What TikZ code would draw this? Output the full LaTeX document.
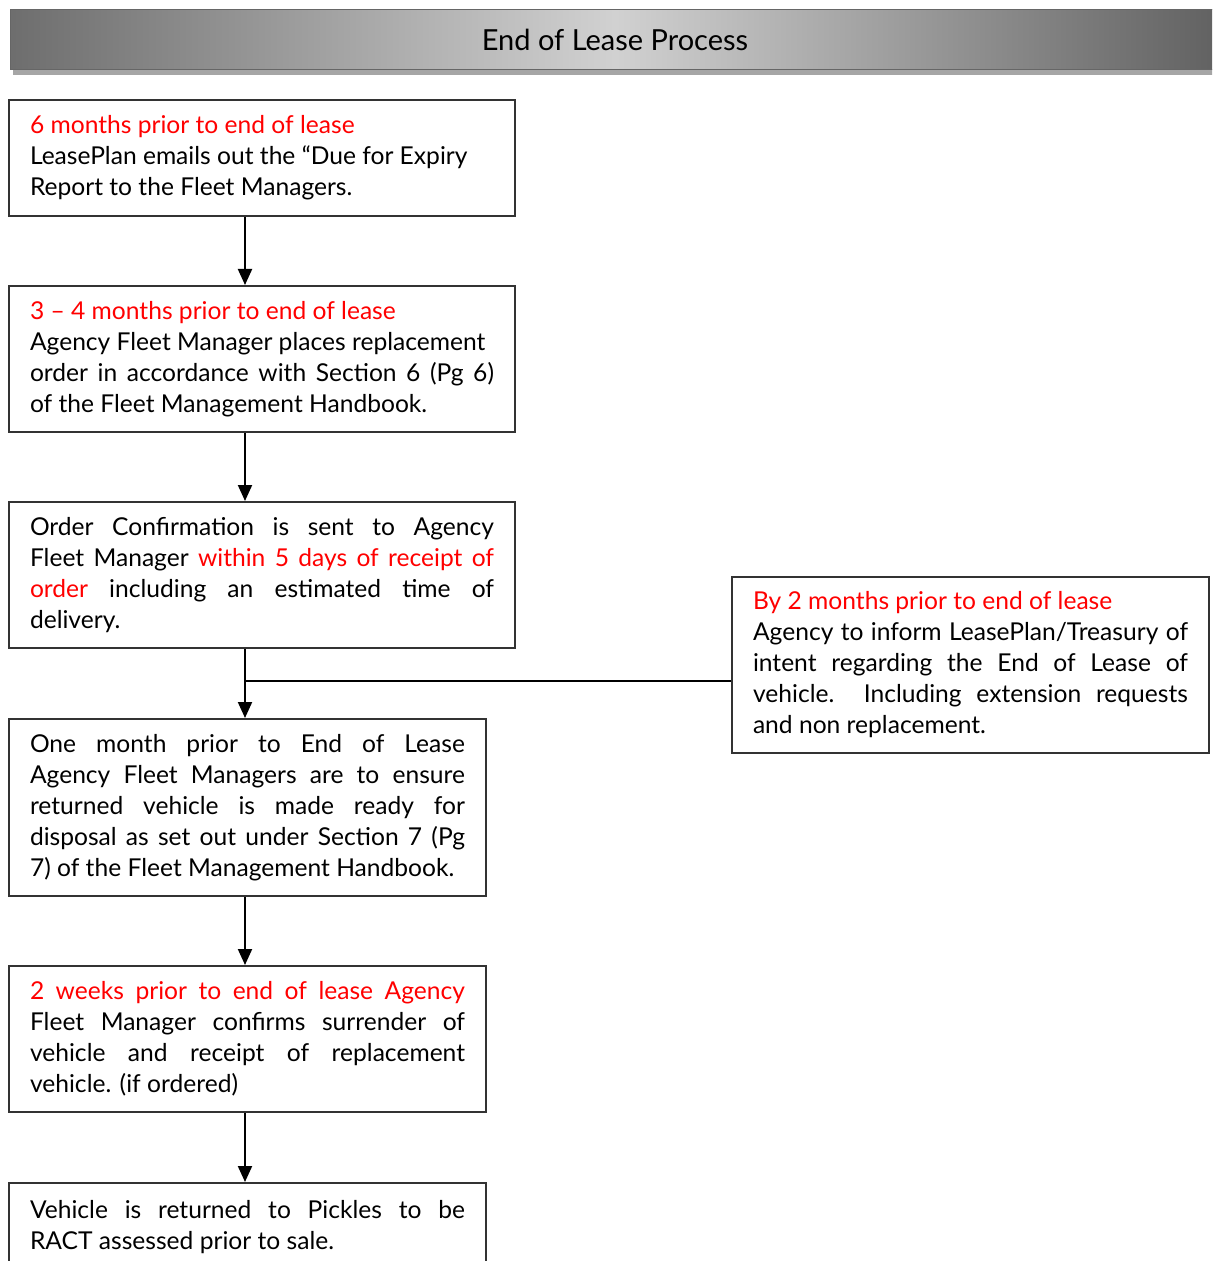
\documentclass[tikz,border=0pt]{standalone}
\usepackage{fontspec}
\setmainfont{Lato}
\usetikzlibrary{arrows.meta}

\begin{document}
\begin{tikzpicture}[x=0.5pt,y=-0.5pt,
box/.style={rectangle,draw=black!80,line width=1pt,anchor=north west,align=justify,
  inner xsep=10.5pt,inner ysep=0pt,font=\fontsize{12.3}{15.5}\selectfont},
wide/.style={box,text width=232pt},
narrow/.style={box,text width=217.5pt},
arr/.style={line width=1pt,-{Triangle[width=7pt,length=8pt]}}
]
\useasboundingbox (0,0) rectangle (1212,1261);
\clip (0,0) rectangle (1212,1261);

% title bar
\fill[black!35] (13,70) rectangle (1220,75);
\node[rectangle,draw=black!60,line width=0.5pt,left color=black!57,right color=black!62,middle color=black!18,
  minimum width=605pt,minimum height=30pt,inner sep=0pt,font=\fontsize{14.5}{16}\selectfont]
  (title) at (615,40) {End of Lease Process};

% boxes
\node[wide,minimum height=58pt] (b1) at (8,99) {\textcolor{red}{6 months prior to end of lease}\\
LeasePlan emails out the “Due for Expiry\\
Report to the Fleet Managers.};

\node[wide,minimum height=73pt] (b2) at (8,285) {\textcolor{red}{3 – 4 months prior to end of lease}\\
Agency Fleet Manager places replacement\\
order in accordance with Section 6 (Pg 6)\linebreak
of the Fleet Management Handbook.};

\node[wide,minimum height=73pt] (b3) at (8,501) {Order Confirmation is sent to Agency\linebreak
Fleet Manager \textcolor{red}{within 5 days of receipt of}\linebreak
\textcolor{red}{order} including an estimated time of\linebreak
delivery.};

\node[narrow,minimum height=88.5pt] (b4) at (8,718) {One month prior to End of Lease\linebreak
Agency Fleet Managers are to ensure\linebreak
returned vehicle is made ready for\linebreak
disposal as set out under Section 7 (Pg\linebreak
7) of the Fleet Management Handbook.};

\node[narrow,minimum height=73pt] (b5) at (8,965) {\textcolor{red}{2 weeks prior to end of lease Agency}\linebreak
Fleet Manager confirms surrender of\linebreak
vehicle and receipt of replacement\linebreak
vehicle. (if ordered)};

\node[narrow,minimum height=44pt] (b6) at (8,1182) {Vehicle is returned to Pickles to be\linebreak
RACT assessed prior to sale.};

\node[narrow,minimum height=88pt] (rb) at (731,576) {\textcolor{red}{By 2 months prior to end of lease}\\
Agency to inform LeasePlan/Treasury of\linebreak
intent regarding the End of Lease of\linebreak
vehicle.\ \ Including extension requests\linebreak
and non replacement.};

% connectors
\coordinate (spine) at (245,0);
\coordinate (join) at (245,681);
\draw[arr] (b1.south -| spine) -- (b2.north -| spine);
\draw[arr] (b2.south -| spine) -- (b3.north -| spine);
\draw[arr] (b3.south -| spine) -- (b4.north -| spine);
\draw[arr] (b4.south -| spine) -- (b5.north -| spine);
\draw[arr] (b5.south -| spine) -- (b6.north -| spine);
\draw[line width=0.75pt] (join) -- (join -| rb.west);
\end{tikzpicture}
\end{document}
